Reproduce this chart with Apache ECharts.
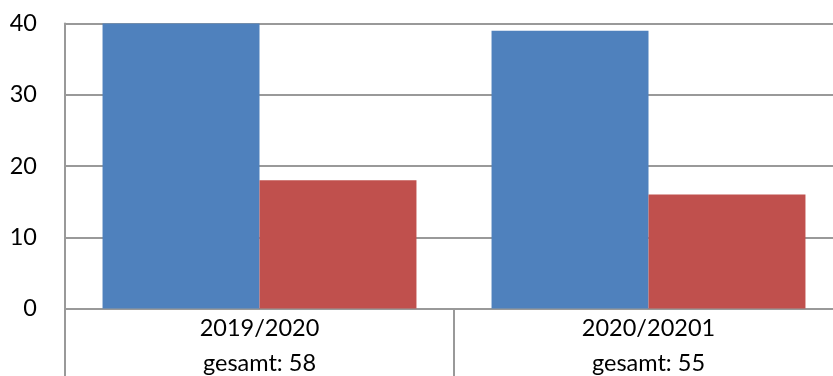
<!DOCTYPE html>
<html>
<head>
<meta charset="utf-8">
<script src="https://cdn.jsdelivr.net/npm/echarts@6/dist/echarts.min.js"></script>
<style>html,body{margin:0;padding:0;background:#fff;}#c{width:833px;height:376px;}</style>
</head>
<body>
<div id="c"></div>
<script>
var categories = ['2019/2020\ngesamt: 58', '2020/20201\ngesamt: 55'];
var seriesA = [40, 39];
var seriesB = [18, 16];
var yTicks = [0, 10, 20, 30, 40];

var chart = echarts.init(document.getElementById('c'));
chart.setOption({
  animation: false,
  grid: { left: 65, width: 778, top: 23.5, bottom: 67.5, containLabel: false, outerBoundsMode: 'none' },
  xAxis: {
    type: 'category',
    data: categories,
    axisLine: { lineStyle: { color: '#999', width: 2 } },
    axisTick: { show: true, length: 70, interval: 0, lineStyle: { color: '#999', width: 2 } },
    axisLabel: { color: '#000', fontSize: 23.5, lineHeight: 35, margin: 2, fontFamily: 'Lato, sans-serif', interval: 0 }
  },
  yAxis: {
    type: 'value',
    min: 0, max: 40, interval: 10,
    axisLine: { show: true, lineStyle: { color: '#999', width: 2 } },
    axisTick: { show: false },
    splitLine: { lineStyle: { color: '#999', width: 2 } },
    axisLabel: { color: '#000', fontSize: 23.5, margin: 28, fontFamily: 'Lato, sans-serif' }
  },
  series: [
    { type: 'bar', data: seriesA, barGap: 0, barCategoryGap: '19.3%', itemStyle: { color: '#4F81BD' } },
    { type: 'bar', data: seriesB, barGap: 0, barCategoryGap: '19.3%', itemStyle: { color: '#C0504D' } }
  ]
});
</script>
</body>
</html>
